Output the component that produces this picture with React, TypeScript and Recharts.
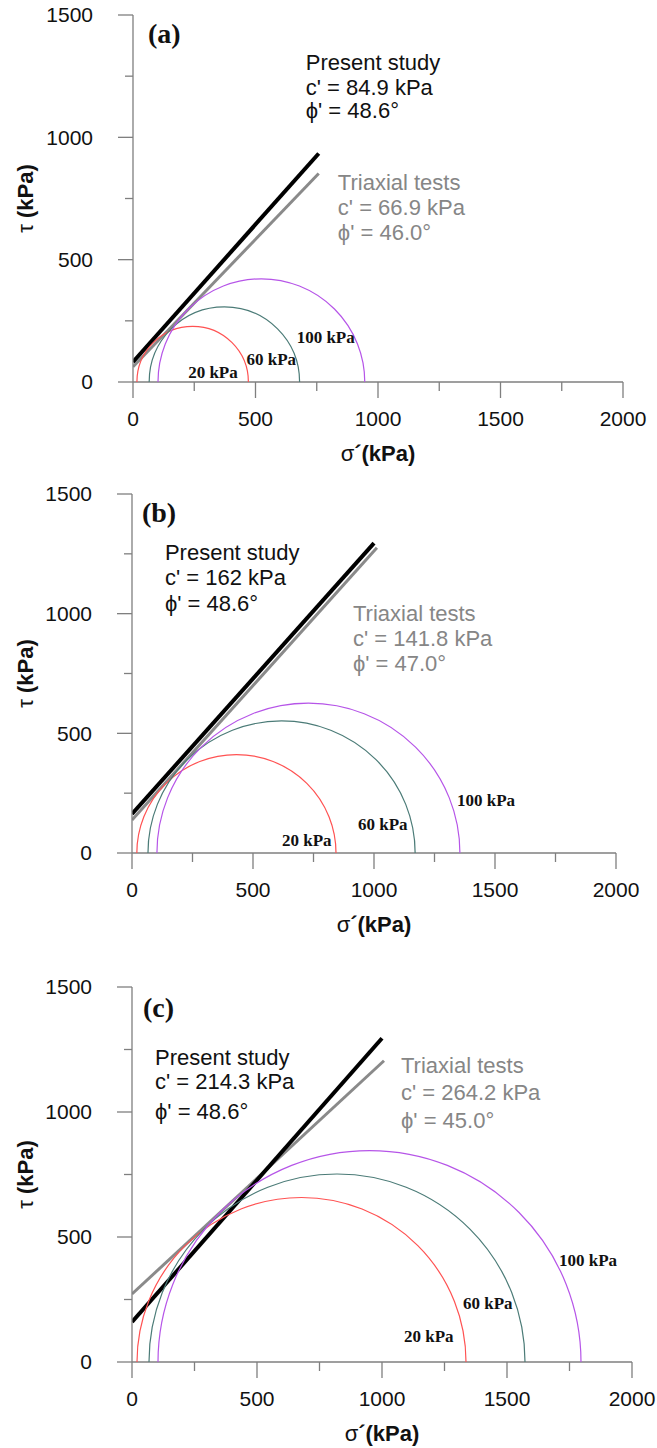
import React from 'react'
import { ComposedChart, XAxis, YAxis, Line, Scatter, ReferenceDot } from 'recharts'

// shared axis ticks (kPa)
const xTicks = [0, 250, 500, 750, 1000, 1250, 1500, 1750, 2000]
const yTicks = [0, 250, 500, 750, 1000, 1250, 1500]
const circleNames = ['20 kPa', '60 kPa', '100 kPa']

// (a) Mohr circles: sigma3 / sigma1 per confining pressure
const sigma3A = [16, 66, 102]
const sigma1A = [471, 680, 946]
const presentSigA = [0, 758]
const presentTauA = [82, 934]
const triaxSigA = [0, 758]
const triaxTauA = [62, 852]
const presentTextA = ['Present study', "c' = 84.9 kPa", "ϕ' = 48.6°"]
const triaxTextA = ['Triaxial tests', "c' = 66.9 kPa", "ϕ' = 46.0°"]

// (b)
const sigma3B = [20, 66, 103]
const sigma1B = [843, 1170, 1355]
const presentSigB = [0, 1000]
const presentTauB = [163, 1295]
const triaxSigB = [0, 1012]
const triaxTauB = [138, 1275]
const presentTextB = ['Present study', "c' = 162 kPa", "ϕ' = 48.6°"]
const triaxTextB = ['Triaxial tests', "c' = 141.8 kPa", "ϕ' = 47.0°"]

// (c)
const sigma3C = [20, 68, 104]
const sigma1C = [1336, 1572, 1796]
const presentSigC = [0, 1000]
const presentTauC = [160, 1295]
const triaxSigC = [0, 1008]
const triaxTauC = [272, 1205]
const presentTextC = ['Present study', "c' = 214.3 kPa", "ϕ' = 48.6°"]
const triaxTextC = ['Triaxial tests', "c' = 264.2 kPa", "ϕ' = 45.0°"]

const AXIS = '#7f7f7f'
const GREY_TEXT = '#868686'
const circleColors = ['#ff5252', '#4b7b77', '#b655e8']
const SANS = '"Liberation Sans", Arial, sans-serif'
const SERIF = '"Liberation Serif", "Times New Roman", serif'

const toPoints = (xs: number[], ys: number[]) => xs.map((x, i) => ({ x, y: ys[i] }))

// a Mohr circle from its two principal stresses: both ends on the axis + the top
const circlePoints = (s3: number, s1: number) => [
  { x: s3, y: 0 },
  { x: (s3 + s1) / 2, y: (s1 - s3) / 2 },
  { x: s1, y: 0 },
]

const arcLine = (color: string) => (props: any) => {
  const pts = [...(props.points || [])].sort((a: any, b: any) => a.x - b.x)
  if (pts.length < 3) return <g />
  const [l, t, r] = pts
  const rx = (r.x - l.x) / 2
  const ry = l.y - t.y
  return (
    <path
      d={`M${l.x},${l.y} A${rx},${ry} 0 0 1 ${r.x},${r.y}`}
      fill="none"
      stroke={color}
      strokeWidth={1.2}
    />
  )
}

const emptyShape = () => <g />

const YTick = (props: any) => {
  const { x, y, payload } = props
  const major = payload.value % 500 === 0
  return (
    <g>
      <line x1={x - (major ? 15 : 8)} x2={x} y1={y} y2={y} stroke={AXIS} strokeWidth={1.3} />
      {major && (
        <text x={x - 40} y={y} dy="0.35em" textAnchor="end" fontFamily={SANS} fontSize={21} fill="#111">
          {payload.value}
        </text>
      )}
    </g>
  )
}

const XTick = (props: any) => {
  const { x, y, payload } = props
  const major = payload.value % 500 === 0
  return (
    <g>
      <line x1={x} x2={x} y1={y} y2={y + (major ? 16 : 9)} stroke={AXIS} strokeWidth={1.3} />
      {major && (
        <text x={x} y={y + 37} dy="0.35em" textAnchor="middle" fontFamily={SANS} fontSize={21} fill="#111">
          {payload.value}
        </text>
      )}
    </g>
  )
}

const yTitle = (props: any) => {
  const vb = props.viewBox || {}
  const cx = 25
  const cy = vb.y + vb.height / 2
  return (
    <text
      x={cx}
      y={cy}
      dy="0.35em"
      textAnchor="middle"
      transform={`rotate(-90 ${cx} ${cy})`}
      fontFamily={SANS}
      fontSize={22}
      fill="#111"
    >
      <tspan>τ</tspan>
      <tspan fontWeight="bold"> (kPa)</tspan>
    </text>
  )
}

const xTitle = (props: any) => {
  const vb = props.viewBox || {}
  return (
    <text x={vb.x + vb.width / 2} y={vb.y + 71} dy="0.35em" textAnchor="middle" fontFamily={SANS} fontSize={22} fill="#111">
      <tspan>σ</tspan>
      <tspan fontWeight="bold">´(kPa)</tspan>
    </text>
  )
}

const textBlock = (lines: string[], gaps: number[], color: string) => (p: any) => (
  <text x={p.cx} y={p.cy} fill={color} fontFamily={SANS} fontSize={22}>
    {lines.map((s, i) => (
      <tspan key={i} x={p.cx} dy={i === 0 ? '0.35em' : gaps[i - 1]}>
        {s}
      </tspan>
    ))}
  </text>
)

const tagShape = (tag: string) => (p: any) => (
  <text x={p.cx} y={p.cy} dy="0.35em" fontFamily={SERIF} fontWeight="bold" fontSize={28} fill="#111">
    {tag}
  </text>
)

const circleLabelShape = (name: string) => (p: any) => (
  <text x={p.cx} y={p.cy} dy="0.33em" fontFamily={SERIF} fontWeight="bold" fontSize={17} fill="#111">
    {name}
  </text>
)

const panels = [
  {
    tag: '(a)',
    top: 0,
    height: 475,
    margin: { top: 15, right: 34, left: 0, bottom: 0 },
    yAxisWidth: 133,
    xAxisHeight: 93,
    sigma3: sigma3A,
    sigma1: sigma1A,
    present: toPoints(presentSigA, presentTauA),
    triax: toPoints(triaxSigA, triaxTauA),
    presentText: presentTextA,
    triaxText: triaxTextA,
    tagAt: [61, 1426],
    presentAt: [705, 1308],
    presentGaps: [25, 23],
    triaxAt: [836, 817],
    triaxGaps: [25, 25],
    labelAt: [[225, 41], [463, 94], [668, 184]],
  },
  {
    tag: '(b)',
    top: 475,
    height: 470,
    margin: { top: 19, right: 41, left: 0, bottom: 0 },
    yAxisWidth: 132,
    xAxisHeight: 92,
    sigma3: sigma3B,
    sigma1: sigma1B,
    present: toPoints(presentSigB, presentTauB),
    triax: toPoints(triaxSigB, triaxTauB),
    presentText: presentTextB,
    triaxText: triaxTextB,
    tagAt: [41, 1425],
    presentAt: [136, 1258],
    presentGaps: [25, 26],
    triaxAt: [913, 1003],
    triaxGaps: [25, 25],
    labelAt: [[620, 54], [934, 121], [1343, 221]],
  },
  {
    tag: '(c)',
    top: 945,
    height: 503,
    margin: { top: 42, right: 25, left: 0, bottom: 0 },
    yAxisWidth: 132,
    xAxisHeight: 86,
    sigma3: sigma3C,
    sigma1: sigma1C,
    present: toPoints(presentSigC, presentTauC),
    triax: toPoints(triaxSigC, triaxTauC),
    presentText: presentTextC,
    triaxText: triaxTextC,
    tagAt: [44, 1420],
    presentAt: [92, 1220],
    presentGaps: [24, 30],
    triaxAt: [1076, 1188],
    triaxGaps: [27, 28],
    labelAt: [[1088, 104], [1324, 236], [1708, 408]],
  },
]

function MohrPanel({ p }: { p: (typeof panels)[number] }) {
  return (
    <div style={{ position: 'absolute', left: 0, top: p.top }}>
      <ComposedChart width={657} height={p.height} margin={p.margin}>
        <XAxis
          type="number"
          dataKey="x"
          domain={[0, 2000]}
          ticks={xTicks}
          interval={0}
          allowDataOverflow
          height={p.xAxisHeight}
          tickSize={0}
          tickMargin={0}
          tickLine={false}
          tick={<XTick />}
          axisLine={{ stroke: AXIS, strokeWidth: 1.3 }}
          label={xTitle}
        />
        <YAxis
          type="number"
          dataKey="y"
          domain={[0, 1500]}
          ticks={yTicks}
          interval={0}
          allowDataOverflow
          width={p.yAxisWidth}
          tickSize={0}
          tickMargin={0}
          tickLine={false}
          tick={<YTick />}
          axisLine={{ stroke: AXIS, strokeWidth: 1.3 }}
          label={yTitle}
        />
        {p.sigma3.map((s3, i) => (
          <Scatter
            key={circleNames[i]}
            name={circleNames[i]}
            data={circlePoints(s3, p.sigma1[i])}
            dataKey="y"
            fill={circleColors[i]}
            shape={emptyShape}
            line={arcLine(circleColors[i])}
            isAnimationActive={false}
          />
        ))}
        <Line
          data={p.triax}
          dataKey="y"
          type="linear"
          stroke="#8a8a8a"
          strokeWidth={3}
          dot={false}
          activeDot={false}
          isAnimationActive={false}
        />
        <Line
          data={p.present}
          dataKey="y"
          type="linear"
          stroke="#000"
          strokeWidth={4}
          dot={false}
          activeDot={false}
          isAnimationActive={false}
        />
        {p.labelAt.map(([x, y], i) => (
          <ReferenceDot key={'lbl' + i} x={x} y={y} r={0} shape={circleLabelShape(circleNames[i])} />
        ))}
        <ReferenceDot x={p.tagAt[0]} y={p.tagAt[1]} r={0} shape={tagShape(p.tag)} />
        <ReferenceDot
          x={p.presentAt[0]}
          y={p.presentAt[1]}
          r={0}
          shape={textBlock(p.presentText, p.presentGaps, '#111')}
        />
        <ReferenceDot
          x={p.triaxAt[0]}
          y={p.triaxAt[1]}
          r={0}
          shape={textBlock(p.triaxText, p.triaxGaps, GREY_TEXT)}
        />
      </ComposedChart>
    </div>
  )
}

export default function App() {
  return (
    <div style={{ position: 'absolute', left: 0, top: 0, width: 657, height: 1448, background: '#fff' }}>
      {panels.map((p) => (
        <MohrPanel key={p.tag} p={p} />
      ))}
    </div>
  )
}
